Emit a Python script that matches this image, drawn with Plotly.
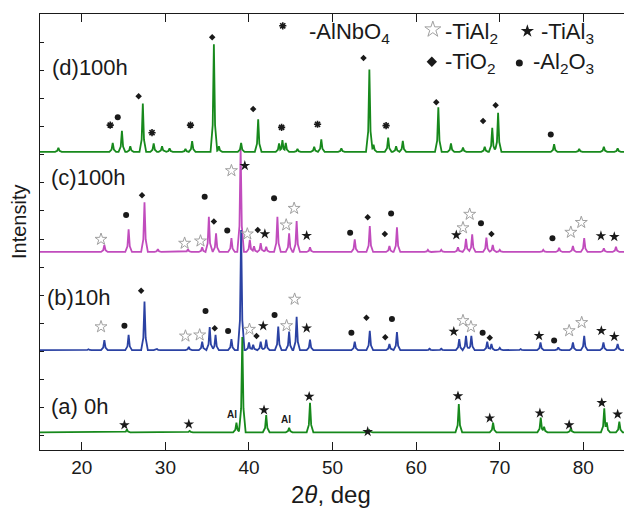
import numpy as np
import plotly.graph_objects as go

# ---------------- data ----------------
two_theta_range = [15, 84.86]

# baselines (offsets of each stacked pattern, arbitrary intensity units)
base_a, base_b, base_c, base_d = 0.13, 3.05, 6.54, 10.10

# (a) 0h
peaks_a_pos = [25.4, 32.9, 38.5, 39.2, 42.06, 44.8, 47.3, 54.4, 65.1, 69.2, 74.9, 75.3, 78.5, 82.5, 82.8, 84.3]
peaks_a_h = [0.10, 0.05, 0.34, 3.39, 0.61, 0.16, 1.05, 0.07, 1.00, 0.34, 0.52, 0.20, 0.14, 0.85, 0.35, 0.38]

# (b) 10h
peaks_b_pos = [20.8, 22.7, 25.6, 27.5, 29.0, 32.8, 34.4, 35.3, 36.0, 37.9, 39.06, 40.0, 40.5, 41.4, 42.06,
               43.5, 44.8, 45.7, 47.3, 52.65, 54.45, 56.8, 57.7, 61.6, 63.0, 65.15, 65.96, 66.6, 68.5, 69.0,
               70.0, 72.5, 74.87, 77.0, 78.75, 80.1, 82.4, 84.1]
peaks_b_h = [0.03, 0.36, 0.54, 1.73, 0.04, 0.12, 0.30, 0.82, 0.54, 0.39, 4.27, 0.27, 0.19, 0.30, 0.37,
             0.84, 0.66, 1.19, 0.37, 0.30, 0.69, 0.22, 0.64, 0.05, 0.05, 0.39, 0.51, 0.51, 0.30, 0.22,
             0.08, 0.04, 0.27, 0.10, 0.27, 0.51, 0.27, 0.22]

# (c) 100h
peaks_c_pos = [22.7, 25.6, 27.5, 29.1, 32.7, 34.4, 35.2, 36.06, 37.9, 39.0, 40.1, 40.6, 41.4, 42.06, 43.4,
               44.8, 45.7, 47.3, 52.65, 54.45, 56.8, 57.7, 61.4, 63.0, 65.0, 65.96, 66.7, 68.4, 69.16, 70.0,
               75.2, 77.1, 78.75, 80.1, 82.45, 83.9]
peaks_c_h = [0.25, 0.81, 1.77, 0.10, 0.10, 0.17, 1.25, 0.66, 0.49, 3.70, 0.43, 0.20, 0.31, 0.19, 1.25,
             0.66, 1.10, 0.17, 0.45, 0.92, 0.21, 0.88, 0.08, 0.08, 0.17, 0.47, 0.63, 0.51, 0.25, 0.08,
             0.08, 0.15, 0.21, 0.49, 0.13, 0.19]

# (d) 100h
peaks_d_pos = [17.2, 23.7, 24.8, 25.8, 27.3, 28.6, 29.6, 30.5, 32.4, 33.2, 35.8, 36.4, 39.06, 41.1, 43.6,
               44.0, 44.4, 45.8, 47.8, 48.65, 51.05, 54.4, 54.9, 56.65, 57.6, 58.4, 62.65, 64.16, 65.6, 68.2,
               69.1, 69.8, 76.5, 79.5, 82.45, 84.1]
peaks_d_h = [0.14, 0.32, 0.75, 0.20, 1.72, 0.30, 0.20, 0.12, 0.10, 0.38, 3.82, 0.20, 0.32, 1.16, 0.30,
             0.42, 0.32, 0.10, 0.18, 0.44, 0.12, 2.93, 0.25, 0.51, 0.20, 0.39, 1.58, 0.30, 0.15, 0.18,
             0.85, 1.39, 0.27, 0.10, 0.18, 0.12]

# phase markers (position, label height)
a_tial3_x = [25.1, 32.8, 41.8, 47.2, 54.2, 65.0, 68.8, 74.8, 78.3, 82.2, 84.1]
a_tial3_y = [0.39, 0.42, 0.92, 1.40, 0.15, 1.42, 0.63, 0.81, 0.39, 1.18, 0.77]
a_al_x = [37.94, 44.44]
a_al_y = [0.75, 0.57]

b_tial2_x = [22.3, 32.4, 34.1, 40.06, 44.5, 45.46, 65.6, 66.55, 78.3, 79.8]
b_tial2_y = [3.88, 3.55, 3.59, 3.79, 3.92, 4.86, 4.10, 3.88, 3.74, 4.03]
b_tial3_x = [41.7, 46.9, 64.5, 74.7, 82.15, 83.7]
b_tial3_y = [3.91, 3.83, 3.71, 3.56, 3.74, 3.53]
b_tio2_x = [27.1, 35.9, 40.9, 54.05, 56.3, 68.8]
b_tio2_y = [5.16, 3.83, 3.55, 4.20, 3.51, 3.49]
b_al2o3_x = [25.1, 34.8, 37.5, 43.06, 52.25, 57.1, 67.95, 76.5]
b_al2o3_y = [3.92, 4.44, 3.73, 4.30, 3.67, 4.16, 3.67, 3.39]

c_tial2_x = [22.3, 32.3, 34.2, 37.9, 39.8, 44.45, 45.4, 65.6, 66.4, 78.5, 79.75]
c_tial2_y = [6.99, 6.85, 6.93, 9.43, 7.18, 7.50, 8.09, 7.40, 7.88, 7.24, 7.59]
c_tial3_x = [39.5, 41.9, 46.9, 64.8, 82.1, 83.7]
c_tial3_y = [9.61, 7.18, 7.12, 7.14, 7.11, 7.08]
c_tio2_x = [27.2, 35.8, 41.05, 54.2, 56.25, 69.0]
c_tio2_y = [8.56, 7.62, 7.32, 7.77, 7.18, 7.18]
c_al2o3_x = [25.3, 34.7, 37.4, 43.0, 52.1, 57.0, 67.75, 76.3]
c_al2o3_y = [7.85, 8.50, 7.30, 8.45, 7.22, 7.91, 7.56, 7.03]

d_alnbo4_x = [23.4, 28.4, 33.0, 43.9, 48.2, 56.4]
d_alnbo4_y = [11.05, 10.78, 11.05, 10.97, 11.08, 11.03]
d_tio2_x = [26.8, 35.6, 40.5, 53.7, 62.4, 68.0, 69.5]
d_tio2_y = [12.08, 14.17, 11.62, 13.44, 11.86, 11.20, 11.76]
d_al2o3_x = [24.3, 76.1]
d_al2o3_y = [11.33, 10.72]

x_tick_vals = [20, 30, 40, 50, 60, 70, 80]

# ---------------- styles ----------------
GREEN = "#17891c"
MAGENTA = "#c14cbd"
BLUE = "#2b42a3"
INK = "#1a1a1a"

W = 0.40                       # peak half-width (deg) for drawing
SHAPE_OFF = [-1.0, -0.35, 0.0, 0.35, 1.0]
SHAPE_FR = [0.0, 0.25, 1.0, 0.25, 0.0]


def profile(pos, h, base):
    xs = {two_theta_range[0], two_theta_range[1]}
    for p in pos:
        for o in SHAPE_OFF:
            xs.add(round(p + o * W, 4))
    xs = np.array(sorted(x for x in xs if two_theta_range[0] <= x <= two_theta_range[1]))
    ys = np.zeros_like(xs)
    for p, hh in zip(pos, h):
        ys = np.maximum(ys, np.interp(xs - p, np.array(SHAPE_OFF) * W, np.array(SHAPE_FR) * hh,
                                      left=0, right=0))
    return xs, ys + base


fig = go.Figure()

for pos, h, base, col in [(peaks_c_pos, peaks_c_h, base_c, MAGENTA),
                          (peaks_b_pos, peaks_b_h, base_b, BLUE),
                          (peaks_a_pos, peaks_a_h, base_a, GREEN),
                          (peaks_d_pos, peaks_d_h, base_d, GREEN)]:
    xs, ys = profile(pos, h, base)
    fig.add_trace(go.Scatter(x=xs, y=ys, mode="lines", line=dict(color=col, width=1.8),
                             hoverinfo="skip", showlegend=False))

MK = {
    "tial2": dict(symbol="star-open", size=9, color="#a0a0a0", line=dict(color="#a0a0a0", width=1)),
    "tial3": dict(symbol="star", size=8, color=INK, line=dict(width=0)),
    "tio2": dict(symbol="diamond", size=5, color=INK, line=dict(width=0)),
    "al2o3": dict(symbol="circle", size=6, color=INK, line=dict(width=0)),
    "alnbo4": dict(symbol="asterisk-open", size=6, color=INK, line=dict(color=INK, width=1.6)),
}


def add_markers(xv, yv, kind, size=None):
    m = dict(MK[kind])
    if size:
        m["size"] = size
    fig.add_trace(go.Scatter(x=xv, y=yv, mode="markers", marker=m, hoverinfo="skip", showlegend=False))


add_markers(a_tial3_x, a_tial3_y, "tial3")
add_markers(b_tial2_x, b_tial2_y, "tial2")
add_markers(b_tial3_x, b_tial3_y, "tial3")
add_markers(b_tio2_x, b_tio2_y, "tio2")
add_markers(b_al2o3_x, b_al2o3_y, "al2o3")
add_markers(c_tial2_x, c_tial2_y, "tial2")
add_markers(c_tial3_x, c_tial3_y, "tial3")
add_markers(c_tio2_x, c_tio2_y, "tio2")
add_markers(c_al2o3_x, c_al2o3_y, "al2o3")
add_markers(d_alnbo4_x, d_alnbo4_y, "alnbo4")
add_markers(d_tio2_x, d_tio2_y, "tio2")
add_markers(d_al2o3_x, d_al2o3_y, "al2o3")

# legend symbols (in data coordinates)
add_markers([44.04], [14.58], "alnbo4")
add_markers([61.99], [14.45], "tial2", size=12)
add_markers([73.30], [14.39], "tial3", size=10)
add_markers([61.87], [13.30], "tio2", size=8)
add_markers([72.34], [13.26], "al2o3", size=7)

# ---------------- layout ----------------
L, T, WIDTH, HEIGHT = 40, 14, 624, 508
PW, PH = WIDTH - L, 450 - T


def fx(px):
    return (px - L) / PW


def fy(py):
    return (450 - py) / PH


FONT = "Liberation Sans, Arial, Helvetica, sans-serif"
ann = []


def text(px, py, s, size, xanchor="left", angle=0):
    ann.append(dict(x=fx(px), y=fy(py), xref="paper", yref="paper", text=s, showarrow=False,
                    xanchor=xanchor, yanchor="middle", textangle=angle,
                    font=dict(size=size, color=INK, family=FONT)))


text(50, 67, "(d)100h", 22)
text(49, 177, "(c)100h", 22)
text(45, 297, "(b)10h", 22)
text(49, 406, "(a) 0h", 22)

text(307, 33, "-AlNbO<sub>4</sub>", 22)
text(443, 33, "-TiAl<sub>2</sub>", 22)
text(539, 33, "-TiAl<sub>3</sub>", 22)
text(443, 63, "-TiO<sub>2</sub>", 22)
text(531, 63, "-Al<sub>2</sub>O<sub>3</sub>", 22)

text(331, 494, "2<i>θ</i>, deg", 24, xanchor="center")
text(19, 222, "Intensity", 20, xanchor="center", angle=-90)

for xa, ya in zip(a_al_x, a_al_y):
    ann.append(dict(x=xa, y=ya, xref="x", yref="y", text="<b>Al</b>", showarrow=False,
                    font=dict(size=10, color=INK, family=FONT)))

fig.update_layout(
    width=WIDTH, height=HEIGHT,
    margin=dict(l=L, r=0, t=T, b=HEIGHT - 450),
    paper_bgcolor="white", plot_bgcolor="white",
    annotations=ann,
    xaxis=dict(range=two_theta_range, tickvals=x_tick_vals, ticks="inside", ticklen=8, tickwidth=1,
               tickcolor=INK, showline=True, linecolor=INK, linewidth=1.2, mirror="ticks",
               showgrid=False, zeroline=False, tickfont=dict(size=19, color=INK, family=FONT)),
    yaxis=dict(range=[-0.5, 15.0], dtick=1, tick0=0, ticks="inside", ticklen=4, tickwidth=1,
               tickcolor=INK, showline=True, linecolor=INK, linewidth=1.2, mirror=False,
               showgrid=False, zeroline=False, showticklabels=False),
)

fig.write_html("out.html", config={"displayModeBar": False},
               post_script="document.body.style.margin='0px';")
